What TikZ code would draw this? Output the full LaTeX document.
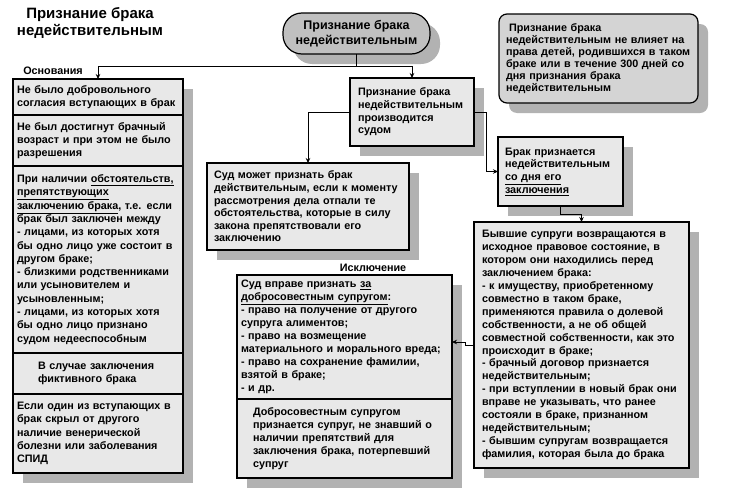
\documentclass[tikz,border=0pt]{standalone}
\usepackage{fontspec}
\setmainfont{Liberation Sans}
\usetikzlibrary{positioning, calc}
\usetikzlibrary{arrows.meta}
\usetikzlibrary{shadows}

\definecolor{boxgray}{RGB}{232,232,232}
\definecolor{shadegray}{RGB}{178,178,178}
\definecolor{ovalgray}{RGB}{192,192,192}
\definecolor{notegray}{RGB}{212,212,212}

\tikzset{
  box/.style={draw, line width=1.2pt, fill=boxgray, outer sep=0pt, align=left,
    font=\bfseries\fontsize{10.8}{13.3}\selectfont,
    drop shadow={shadow xshift=10pt, shadow yshift=-10pt, fill=shadegray, opacity=1}},
  lbl/.style={font=\bfseries\fontsize{10.8}{13}\selectfont},
  link/.style={line width=0.8pt},
}

\begin{document}
\begin{tikzpicture}[x=1pt,y=-1pt,>={Stealth[length=5pt,width=4.5pt]}]
\useasboundingbox (0,0) rectangle (730,490);

% Заголовок
\node[font=\bfseries\fontsize{15}{17.5}\selectfont, align=center] (title) at (90,23)
  {Признание брака\\недействительным};

% Главный узел
\node[box, rounded corners=19pt, fill=ovalgray, align=center, minimum width=147pt,
  minimum height=41pt, font=\bfseries\fontsize{12.5}{15}\selectfont] (main) at (356.5,33.5)
  {Признание брака\\недействительным};

% Примечание справа
\node[box, rounded corners=8pt, fill=notegray, text width=185pt, inner xsep=7pt,
  minimum height=89pt, font=\bfseries\fontsize{10.8}{12}\selectfont] (note) at (598.5,58.5)
  {\hspace*{3pt}Признание брака\\недействительным не влияет на\\права детей, родившихся в таком\\браке или в течение 300 дней со\\дня признания брака\\недействительным};

% Основания (левая колонка)
\node[lbl] (osn) at (53,71) {Основания};
\node[box, anchor=north west, text width=162pt, inner xsep=4pt, minimum height=36pt] (s1) at (13,79)
  {Не было добровольного\\согласия вступающих в брак};
\node[box, below=0pt of s1, text width=162pt, inner xsep=4pt, minimum height=51pt] (s2)
  {Не был достигнут брачный\\возраст и при этом не было\\разрешения};
\node[box, below=0pt of s2, text width=162pt, inner xsep=4pt, minimum height=187pt] (s3)
  {При наличии \underline{обстоятельств,}\\\underline{препятствующих}\\\underline{заключению брака}, т.е. если\\брак был заключен между\\- лицами, из которых хотя\\бы одно лицо уже состоит в\\другом браке;\\- близкими родственниками\\или усыновителем и\\усыновленным;\\- лицами, из которых хотя\\бы одно лицо признано\\судом недееспособным};
\node[box, below=0pt of s3, text width=162pt, inner xsep=4pt, minimum height=41pt] (s4)
  {\hspace*{21pt}В случае заключения\\\hspace*{21pt}фиктивного брака};
\node[box, below=0pt of s4, text width=162pt, inner xsep=4pt, minimum height=79pt] (s5)
  {Если один из вступающих в\\брак скрыл от другого\\наличие венерической\\болезни или заболевания\\СПИД};

% Средняя ветвь
\node[box, anchor=north west, text width=108pt, inner xsep=8pt, minimum height=68pt,
  font=\bfseries\fontsize{10.8}{12.7}\selectfont] (m1) at (350,78)
  {Признание брака\\недействительным\\производится\\судом};
\node[box, anchor=north west, text width=188pt, inner xsep=7pt, minimum height=87pt,
  font=\bfseries\fontsize{10.8}{12.6}\selectfont] (sud) at (207,163)
  {Суд может признать брак\\действительным, если к моменту\\рассмотрения дела отпали  те\\обстоятельства, которые в силу\\закона препятствовали его\\заключению};
\node[box, anchor=north west, text width=111pt, inner xsep=7pt, minimum height=69pt,
  font=\bfseries\fontsize{10.8}{12.7}\selectfont] (brak) at (498,137)
  {Брак признается\\недействительным\\\underline{со дня его}\\\underline{заключения}};
\node[box, anchor=north west, text width=199pt, inner xsep=8pt, minimum height=246pt,
  font=\bfseries\fontsize{10.8}{12.9}\selectfont] (byv) at (474,222)
  {Бывшие супруги возвращаются в\\исходное правовое состояние, в\\котором они находились перед\\заключением брака:\\- к имуществу, приобретенному\\совместно в таком браке,\\применяются правила о долевой\\собственности, а не об общей\\совместной собственности, как это\\происходит в браке;\\- брачный договор признается\\недействительным;\\- при вступлении в новый брак они\\вправе не указывать, что ранее\\состояли в браке, признанном\\недействительным;\\- бывшим супругам возвращается\\фамилия, которая была до брака};

% Исключение
\node[lbl] (iskl) at (373,268) {Исключение};
\node[box, anchor=north west, text width=207pt, inner xsep=4pt, minimum height=124pt,
  font=\bfseries\fontsize{10.8}{13}\selectfont] (vpr1) at (237,275)
  {Суд вправе признать  \underline{за}\\\underline{добросовестным супругом}:\\- право на получение от другого\\супруга алиментов;\\- право на возмещение\\материального и морального вреда;\\-  право на сохранение фамилии,\\взятой в браке;\\- и др.};
\node[box, below=0pt of vpr1, text width=207pt, inner xsep=4pt, minimum height=79pt,
  font=\bfseries\fontsize{10.8}{13}\selectfont] (vpr2)
  {\hspace*{12pt}Добросовестным супругом\\\hspace*{12pt}признается супруг, не знавший о\\\hspace*{12pt}наличии препятствий для\\\hspace*{12pt}заключения брака, потерпевший\\\hspace*{12pt}супруг};

% Связи
\draw[link] (main.south) -- ++(0,12) coordinate (split);
\draw[link,->] (split) -| (s1.north);
\draw[link,->] (split) -| (m1.north);
\draw[link,->] (m1.west) -| (sud.north);
\draw[link,->] (m1.east) -- ++(12,0) |- (brak.west);
\draw[link,->] (brak.south) -- ++(0,8) -| (byv.north);
\draw[link,->] (byv.west) -- ++(-9,0) |- ($(vpr1.east)+(0,5)$);

\end{tikzpicture}
\end{document}
